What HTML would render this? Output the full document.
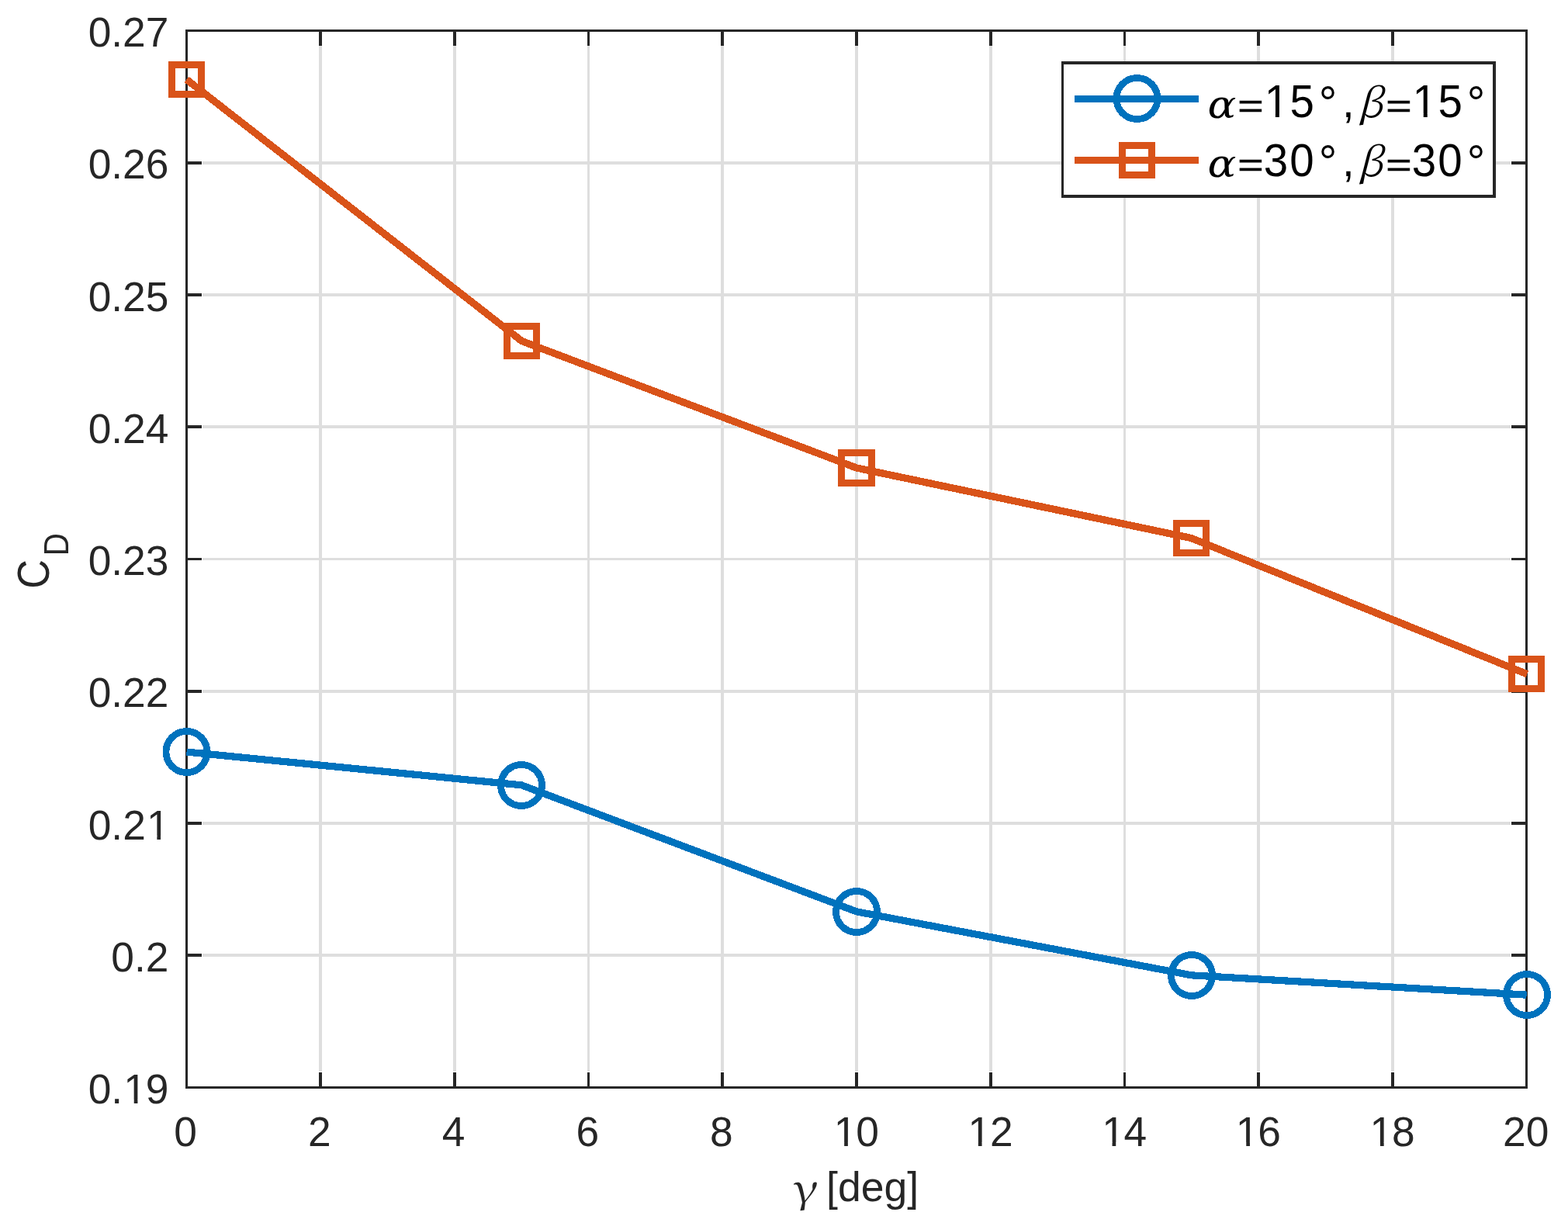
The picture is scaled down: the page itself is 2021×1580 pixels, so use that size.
<!DOCTYPE html>
<html lang="en">
<head>
<meta charset="utf-8">
<title>C_D versus gamma</title>
<style>
html,body{margin:0;padding:0;background:#ffffff;}
body{width:2021px;height:1580px;overflow:hidden;}
svg{display:block;}
text{white-space:pre;}
</style>
</head>
<body>
<svg width="2021" height="1580" viewBox="0 0 2021 1580">
<rect x="0" y="0" width="2021" height="1580" fill="#ffffff"/>
<g shape-rendering="crispEdges">
<rect x="411" y="59" width="4" height="1322" fill="#dedede"/>
<rect x="584" y="59" width="4" height="1322" fill="#dedede"/>
<rect x="757" y="59" width="3" height="1322" fill="#dedede"/>
<rect x="929" y="59" width="4" height="1322" fill="#dedede"/>
<rect x="1102" y="59" width="4" height="1322" fill="#dedede"/>
<rect x="1275" y="59" width="4" height="1322" fill="#dedede"/>
<rect x="1448" y="59" width="3" height="1322" fill="#dedede"/>
<rect x="1620" y="59" width="4" height="1322" fill="#dedede"/>
<rect x="1793" y="59" width="4" height="1322" fill="#dedede"/>
<rect x="261" y="1229" width="1686" height="4" fill="#dedede"/>
<rect x="261" y="1059" width="1686" height="4" fill="#dedede"/>
<rect x="261" y="889" width="1686" height="4" fill="#dedede"/>
<rect x="261" y="719" width="1686" height="3" fill="#dedede"/>
<rect x="261" y="548" width="1686" height="4" fill="#dedede"/>
<rect x="261" y="378" width="1686" height="4" fill="#dedede"/>
<rect x="261" y="208" width="1686" height="4" fill="#dedede"/>
<rect x="239" y="38" width="3" height="1365" fill="#262626"/>
<rect x="1966" y="38" width="3" height="1365" fill="#262626"/>
<rect x="239" y="38" width="1730" height="3" fill="#262626"/>
<rect x="239" y="1400" width="1730" height="3" fill="#262626"/>
<rect x="411" y="38" width="4" height="21" fill="#262626"/>
<rect x="411" y="1382" width="4" height="21" fill="#262626"/>
<rect x="584" y="38" width="4" height="21" fill="#262626"/>
<rect x="584" y="1382" width="4" height="21" fill="#262626"/>
<rect x="757" y="38" width="3" height="21" fill="#262626"/>
<rect x="757" y="1382" width="3" height="21" fill="#262626"/>
<rect x="929" y="38" width="4" height="21" fill="#262626"/>
<rect x="929" y="1382" width="4" height="21" fill="#262626"/>
<rect x="1102" y="38" width="4" height="21" fill="#262626"/>
<rect x="1102" y="1382" width="4" height="21" fill="#262626"/>
<rect x="1275" y="38" width="4" height="21" fill="#262626"/>
<rect x="1275" y="1382" width="4" height="21" fill="#262626"/>
<rect x="1448" y="38" width="3" height="21" fill="#262626"/>
<rect x="1448" y="1382" width="3" height="21" fill="#262626"/>
<rect x="1620" y="38" width="4" height="21" fill="#262626"/>
<rect x="1620" y="1382" width="4" height="21" fill="#262626"/>
<rect x="1793" y="38" width="4" height="21" fill="#262626"/>
<rect x="1793" y="1382" width="4" height="21" fill="#262626"/>
<rect x="239" y="1229" width="21" height="4" fill="#262626"/>
<rect x="1948" y="1229" width="21" height="4" fill="#262626"/>
<rect x="239" y="1059" width="21" height="4" fill="#262626"/>
<rect x="1948" y="1059" width="21" height="4" fill="#262626"/>
<rect x="239" y="889" width="21" height="4" fill="#262626"/>
<rect x="1948" y="889" width="21" height="4" fill="#262626"/>
<rect x="239" y="719" width="21" height="3" fill="#262626"/>
<rect x="1948" y="719" width="21" height="3" fill="#262626"/>
<rect x="239" y="548" width="21" height="4" fill="#262626"/>
<rect x="1948" y="548" width="21" height="4" fill="#262626"/>
<rect x="239" y="378" width="21" height="4" fill="#262626"/>
<rect x="1948" y="378" width="21" height="4" fill="#262626"/>
<rect x="239" y="208" width="21" height="4" fill="#262626"/>
<rect x="1948" y="208" width="21" height="4" fill="#262626"/>
</g>
<g shape-rendering="crispEdges">
<polyline points="240.5,969.05 672.3,1011.85 1104,1174.85 1535.8,1256.85 1967.6,1282.15" fill="none" stroke="#0072bd" stroke-width="9.2" stroke-linejoin="round" stroke-linecap="butt"/>
<circle cx="240.5" cy="969" r="26.55" fill="none" stroke="#0072bd" stroke-width="8.8"/>
<circle cx="672" cy="1012" r="26.55" fill="none" stroke="#0072bd" stroke-width="8.8"/>
<circle cx="1104" cy="1175" r="26.55" fill="none" stroke="#0072bd" stroke-width="8.8"/>
<circle cx="1536" cy="1257" r="26.55" fill="none" stroke="#0072bd" stroke-width="8.8"/>
<circle cx="1968" cy="1282" r="26.55" fill="none" stroke="#0072bd" stroke-width="8.8"/>
<polyline points="240.5,102.5 672.5,439.5 1104,603 1535.5,693.5 1968.3,868.8" fill="none" stroke="#d95319" stroke-width="9.3" stroke-linejoin="round" stroke-linecap="butt"/>
<rect x="221.5" y="83.5" width="38" height="38" fill="none" stroke="#d95319" stroke-width="9"/>
<rect x="653.5" y="420.5" width="38" height="38" fill="none" stroke="#d95319" stroke-width="9"/>
<rect x="1084.5" y="583.5" width="39" height="39" fill="none" stroke="#d95319" stroke-width="9"/>
<rect x="1516.5" y="674.5" width="38" height="38" fill="none" stroke="#d95319" stroke-width="9"/>
<rect x="1948.5" y="849.5" width="38" height="38" fill="none" stroke="#d95319" stroke-width="9"/>
</g>
<g shape-rendering="crispEdges">
<rect x="1368" y="79" width="560" height="176" fill="#ffffff"/>
<rect x="1368" y="79" width="3" height="176" fill="#262626"/>
<rect x="1924" y="79" width="4" height="176" fill="#262626"/>
<rect x="1368" y="79" width="560" height="4" fill="#262626"/>
<rect x="1368" y="251" width="560" height="4" fill="#262626"/>
<rect x="1385" y="123" width="160" height="9" fill="#0072bd"/>
<circle cx="1465.5" cy="127" r="26.55" fill="none" stroke="#0072bd" stroke-width="8.8"/>
<rect x="1385" y="202" width="160" height="9" fill="#d95319"/>
<rect x="1446.5" y="187.5" width="38" height="38" fill="none" stroke="#d95319" stroke-width="9"/>
</g>
<g font-family="'Liberation Sans', sans-serif" font-size="53.3px" fill="#262626">
<text x="113.66" y="1422.10" dx="0 0 1.2 -1.2">0.19</text>
<text x="143.31" y="1251.85">0.2</text>
<text x="113.66" y="1081.60" dx="0 0 0 1.2">0.21</text>
<text x="113.66" y="911.35">0.22</text>
<text x="113.66" y="741.10">0.23</text>
<text x="113.66" y="570.85">0.24</text>
<text x="113.66" y="400.60">0.25</text>
<text x="113.66" y="230.35">0.26</text>
<text x="113.66" y="60.10">0.27</text>
<text x="224.28" y="1477.00">0</text>
<text x="396.98" y="1477.00">2</text>
<text x="569.68" y="1477.00">4</text>
<text x="742.38" y="1477.00">6</text>
<text x="915.08" y="1477.00">8</text>
<text x="1073.56" y="1477.00" dx="1.2 -1.2">10</text>
<text x="1246.26" y="1477.00" dx="1.2 -1.2">12</text>
<text x="1418.96" y="1477.00" dx="1.2 -1.2">14</text>
<text x="1591.66" y="1477.00" dx="1.2 -1.2">16</text>
<text x="1764.36" y="1477.00" dx="1.2 -1.2">18</text>
<text x="1937.06" y="1477.00">20</text>
</g>
<g fill="#262626"><text transform="matrix(1.2286 0 -0.1474 1.0000 1019.37 1549.62)" font-family="'Noto Serif CJK SC', 'Liberation Serif', serif" font-size="50px">γ</text><text x="1050.22" y="1547.9" font-family="'Liberation Sans', sans-serif" font-size="53.5px"> [deg]</text></g>
<text transform="translate(62.52 758.69) rotate(-90) scale(0.9 1)" font-family="'Liberation Sans', sans-serif" fill="#262626" font-size="58.05px"><tspan x="0" y="0">C</tspan><tspan x="47.18" y="25.48" font-size="45.06px">D</tspan></text>
<g fill="#000000"><text transform="matrix(1.0847 0 0.0000 1.0000 1556.56 151.69)" font-family="'DejaVu Serif', 'Liberation Serif', serif" font-style="italic" font-size="50.28px">α</text><text transform="matrix(0.9866 0 0.0000 0.7223 1595.31 151.04)" font-family="'Liberation Sans', sans-serif" font-size="58px" stroke="#000000" stroke-width="0.8">=</text><text transform="scale(0.95 1)" font-family="'Liberation Sans', sans-serif" font-size="59.5px"><tspan x="1715.45" y="151.00">1</tspan><tspan x="1750.04" y="151.00">5</tspan><tspan x="1789.20" y="154.00" font-size="62px">°</tspan><tspan x="1820.95" y="151.00">,</tspan></text><text transform="matrix(1.0247 0 0.0000 1.0000 1749.39 151.15)" font-family="'Noto Serif CJK SC', 'Liberation Serif', serif" font-style="italic" font-size="51.49px">β</text><text transform="matrix(0.9866 0 0.0000 0.7223 1786.31 151.04)" font-family="'Liberation Sans', sans-serif" font-size="58px" stroke="#000000" stroke-width="0.8">=</text><text transform="scale(0.95 1)" font-family="'Liberation Sans', sans-serif" font-size="59.5px"><tspan x="1916.34" y="151.00">1</tspan><tspan x="1950.93" y="151.00">5</tspan><tspan x="1990.20" y="154.00" font-size="62px">°</tspan></text></g>
<g fill="#000000"><text transform="matrix(1.0847 0 0.0000 1.0000 1556.56 227.79)" font-family="'DejaVu Serif', 'Liberation Serif', serif" font-style="italic" font-size="50.28px">α</text><text transform="matrix(0.9866 0 0.0000 0.7223 1595.31 227.14)" font-family="'Liberation Sans', sans-serif" font-size="58px" stroke="#000000" stroke-width="0.8">=</text><text transform="scale(0.95 1)" font-family="'Liberation Sans', sans-serif" font-size="59.5px"><tspan x="1714.52" y="227.10">3</tspan><tspan x="1749.82" y="227.10">0</tspan><tspan x="1789.20" y="230.10" font-size="62px">°</tspan><tspan x="1820.95" y="227.10">,</tspan></text><text transform="matrix(1.0247 0 0.0000 1.0000 1749.39 227.25)" font-family="'Noto Serif CJK SC', 'Liberation Serif', serif" font-style="italic" font-size="51.49px">β</text><text transform="matrix(0.9866 0 0.0000 0.7223 1786.31 227.14)" font-family="'Liberation Sans', sans-serif" font-size="58px" stroke="#000000" stroke-width="0.8">=</text><text transform="scale(0.95 1)" font-family="'Liberation Sans', sans-serif" font-size="59.5px"><tspan x="1915.52" y="227.10">3</tspan><tspan x="1950.88" y="227.10">0</tspan><tspan x="1990.20" y="230.10" font-size="62px">°</tspan></text></g>
<g><rect x="162.37" y="1417.52" width="10.34" height="5.58" fill="#ffffff"/><rect x="177.43" y="1417.52" width="9.93" height="5.58" fill="#ffffff"/><rect x="192.02" y="1077.02" width="10.34" height="5.58" fill="#ffffff"/><rect x="207.07" y="1077.02" width="9.93" height="5.58" fill="#ffffff"/><rect x="1077.82" y="1472.42" width="10.34" height="5.58" fill="#ffffff"/><rect x="1092.87" y="1472.42" width="9.93" height="5.58" fill="#ffffff"/><rect x="1250.52" y="1472.42" width="10.34" height="5.58" fill="#ffffff"/><rect x="1265.57" y="1472.42" width="9.93" height="5.58" fill="#ffffff"/><rect x="1423.22" y="1472.42" width="10.34" height="5.58" fill="#ffffff"/><rect x="1438.27" y="1472.42" width="9.93" height="5.58" fill="#ffffff"/><rect x="1595.92" y="1472.42" width="10.34" height="5.58" fill="#ffffff"/><rect x="1610.97" y="1472.42" width="9.93" height="5.58" fill="#ffffff"/><rect x="1768.62" y="1472.42" width="10.34" height="5.58" fill="#ffffff"/><rect x="1783.67" y="1472.42" width="9.93" height="5.58" fill="#ffffff"/><rect x="1632.98" y="145.95" width="10.91" height="6.05" fill="#ffffff"/><rect x="1648.89" y="145.95" width="10.47" height="6.05" fill="#ffffff"/><rect x="1823.83" y="145.95" width="10.91" height="6.05" fill="#ffffff"/><rect x="1839.74" y="145.95" width="10.47" height="6.05" fill="#ffffff"/></g>
</svg>
</body>
</html>
